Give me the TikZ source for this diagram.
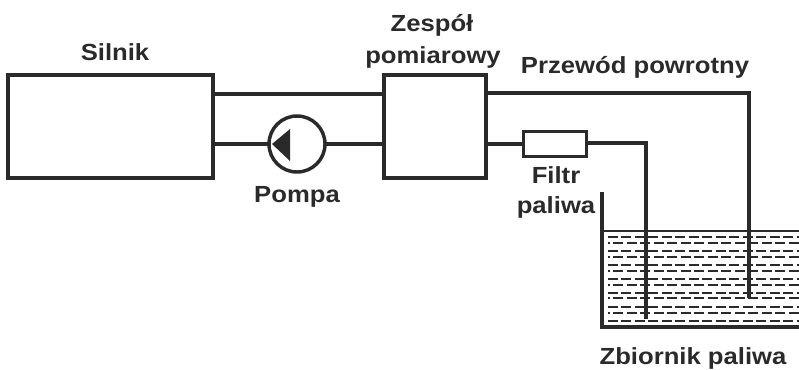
\documentclass[tikz,border=0pt]{standalone}
\usepackage{fontspec}
\setmainfont{Liberation Sans}
\usetikzlibrary{calc}
\definecolor{ink}{HTML}{2A2A2A}
\tikzset{
  box/.style={draw=ink,line width=2.6pt,fill=white,minimum width=#1,inner sep=0pt,outer sep=0pt},
  pipe/.style={draw=ink,line width=2.6pt,line join=miter},
  thin pipe/.style={draw=ink,line width=2.1pt},
  lab/.style={text=ink,font=\bfseries\fontsize{17.5}{20}\selectfont,xscale=1.1,transform shape,inner sep=0pt,anchor=center},
  liq/.style={draw=ink,line width=1.7pt,dash pattern=on 7.5pt off 2.6pt},
}
\begin{document}
\begin{tikzpicture}[x=0.75pt,y=-0.75pt]
\useasboundingbox (0,0) rectangle (799,369);
% boxes
\node[box=153.75pt,minimum height=77.25pt] (silnik) at (110.5,126.5) {};
\node[box=76.5pt,minimum height=77.25pt] (zespol) at (435,126.5) {};
\node[circle,draw=ink,line width=2.6pt,fill=white,minimum size=42pt,inner sep=0pt,outer sep=0pt] (pompa) at (297,144) {};
\node[box=47.5pt,minimum height=18.5pt] (filtr) at (555,144) {};
% tank
\coordinate (tl) at (602,192);
\coordinate (tb) at (602,327);
\coordinate (tr) at (799,327);
\coordinate (sl) at (602,231);
\coordinate (sr) at (799,231);
% liquid
\foreach \y/\ph in {237/0,243/6,251/0,257/6,265/0,271/6,279/0,285/6,293/0,298/6,307/0,313/6,321/0}{
  \draw[liq,dash phase=\ph pt] (608,\y) -- (799,\y);
}
\draw[thin pipe] (sl) -- (sr);
\draw[pipe,line width=3.4pt] (tl) -- (tb) -- (tr);
% pump triangle
\fill[ink] (272,144) -- (290,129) -- (290,161) -- cycle;
% pipes
\coordinate (retcorner) at (749,93);
\coordinate (retend) at (749,298);
\coordinate (supcorner) at (646,143);
\coordinate (supend) at (646,319);
\draw[pipe] (silnik.east |- 0,94) -- (zespol.west |- 0,94);
\draw[pipe] (silnik.east |- pompa) -- (pompa.west);
\draw[pipe] (pompa.east) -- (zespol.west |- pompa);
\draw[pipe] (zespol.east |- retcorner) -- (retcorner) -- (retend);
\draw[pipe] (zespol.east |- filtr) -- (filtr.west);
\draw[pipe] (filtr.east |- supcorner) -- (supcorner) -- (supend);
% labels
\node[lab] (t1) at (115,52) {Silnik};
\node[lab] (t2) at (432,25) {Zespół};
\node[lab] (t3) at (433,57) {pomiarowy};
\node[lab] (t4) at (635,67) {Przewód powrotny};
\node[lab] (t5) at (297,197) {Pompa};
\node[lab] (t6) at (556,175) {Filtr};
\node[lab] (t7) at (556,207) {paliwa};
\node[lab] (t8) at (693,358) {Zbiornik paliwa};
\end{tikzpicture}
\end{document}
